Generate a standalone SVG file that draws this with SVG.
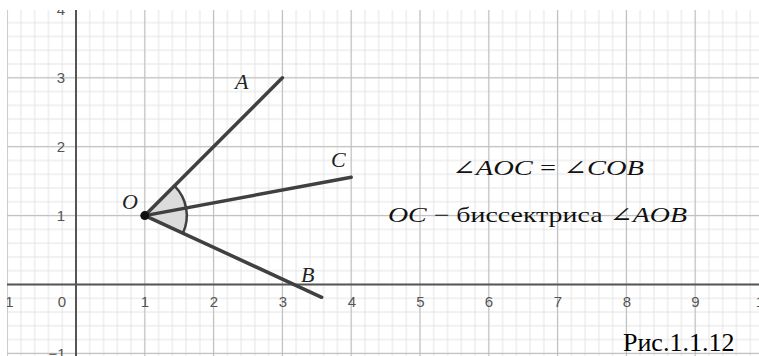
<svg xmlns="http://www.w3.org/2000/svg" width="759" height="356" viewBox="0 0 759 356">
<defs>
<pattern id="minor" patternUnits="userSpaceOnUse" x="69.12" y="277.61" width="13.76" height="13.78">
<path d="M6.88 0V13.78M0 6.89H13.76" stroke="#e4e4e4" stroke-width="1" fill="none"/>
</pattern>
<pattern id="major" patternUnits="userSpaceOnUse" x="41.6" y="250.05" width="68.8" height="68.9">
<path d="M34.4 0V68.9M0 34.45H68.8" stroke="#bdbdbd" stroke-width="1" fill="none"/>
</pattern>
<clipPath id="plot"><rect x="7" y="10" width="752" height="346"/></clipPath>
<style>
.ax{fill:#555;font-family:"Liberation Sans","DejaVu Sans",sans-serif;font-size:15px;text-anchor:middle}
.ray{stroke:#404040;stroke-width:3.5;stroke-linecap:round;fill:none}
.lbl{font-family:"Liberation Serif","DejaVu Serif",serif;font-style:italic;font-size:22px;fill:#222}
.math{font-family:"Liberation Serif","DejaVu Serif",serif;font-size:21px;fill:#111}
.it{font-style:italic}
</style>
</defs>
<rect width="759" height="356" fill="#fff"/>
<g id="grid" clip-path="url(#plot)">
<rect x="7" y="10" width="752" height="346" fill="url(#minor)"/>
<rect x="7" y="10" width="752" height="346" fill="url(#major)"/>
<path d="M76 10V356M7 284.5H759" stroke="#555" stroke-width="2"/>
<g id="xlabels">
<text class="ax" x="5" y="307">−1</text>
<text class="ax" x="62" y="307">0</text>
<text class="ax" x="145" y="307">1</text>
<text class="ax" x="214" y="307">2</text>
<text class="ax" x="283" y="307">3</text>
<text class="ax" x="352" y="307">4</text>
<text class="ax" x="420.5" y="307">5</text>
<text class="ax" x="489" y="307">6</text>
<text class="ax" x="558" y="307">7</text>
<text class="ax" x="627" y="307">8</text>
<text class="ax" x="695.5" y="307">9</text>
<text class="ax" x="764" y="307">10</text>
</g>
<g id="ylabels">
<text class="ax" x="61" y="15">4</text>
<text class="ax" x="61" y="83">3</text>
<text class="ax" x="61" y="152">2</text>
<text class="ax" x="61" y="221">1</text>
<text class="ax" x="57" y="359">−1</text>
</g>
</g>
<g id="connectors">
<path id="sector" d="M144.8 215.6L174.5 185.9A42 42 0 0 1 182.9 233.2Z" fill="#dcdcdc" stroke="none"/>
<path d="M174.5 185.9A42 42 0 0 1 182.9 233.2" fill="none" stroke="#404040" stroke-width="2.5"/>
<line id="rayOA" class="ray" x1="144.8" y1="215.6" x2="282.4" y2="77.8"/>
<line id="rayOC" class="ray" x1="144.8" y1="215.6" x2="351.2" y2="177.2"/>
<line id="rayOB" class="ray" x1="144.8" y1="215.6" x2="321.7" y2="297.3"/>
</g>
<g id="O"><circle cx="144.8" cy="215.6" r="4.5" fill="#111"/><text class="lbl" x="122" y="209">O</text></g>
<g id="A"><text class="lbl" x="235" y="89">A</text></g>
<g id="C"><text class="lbl" x="331" y="167">C</text></g>
<g id="B"><text class="lbl" x="301" y="282">B</text></g>
<g id="eq1"><text class="math" x="452" y="175" textLength="192" lengthAdjust="spacingAndGlyphs">∠<tspan class="it">AOC</tspan> = ∠<tspan class="it">COB</tspan></text></g>
<g id="eq2"><text class="math" x="388" y="222" textLength="299" lengthAdjust="spacingAndGlyphs"><tspan class="it">OC</tspan> − биссектриса ∠<tspan class="it">AOB</tspan></text></g>
<g id="caption"><text x="623" y="351" font-family="Liberation Serif, Times New Roman, serif" font-size="26" fill="#000">Рис.1.1.12</text></g>
</svg>
